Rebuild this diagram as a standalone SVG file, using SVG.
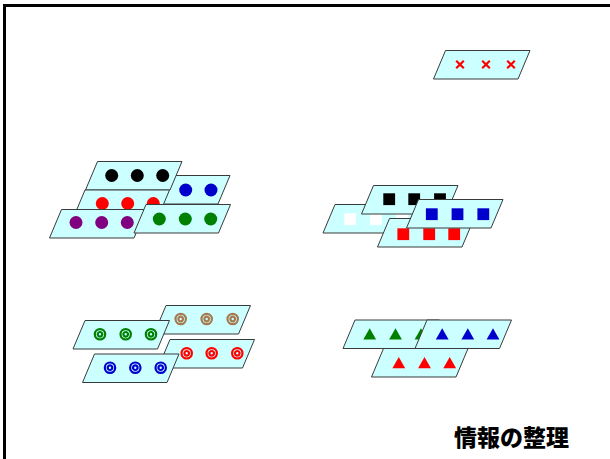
<svg xmlns="http://www.w3.org/2000/svg" xmlns:xlink="http://www.w3.org/1999/xlink" width="610" height="459" viewBox="0 0 610 459">
<style>
.pg{fill:#ccffff;stroke:#3a3a3a;stroke-width:1}
.x{stroke:#ff0000;stroke-width:2.2;fill:none}
.ring{fill:none;stroke-width:2.2}
.title{font-family:"Noto Sans CJK JP","Noto Sans CJK SC",sans-serif;font-weight:900;font-size:23px;fill:#000}
</style>
<defs>
<polygon id="pg" class="pg" points="0,0 84.5,0 72.5,28.5 -12,28.5"/>
<path id="xm" class="x" d="M-3.8,-3.8L3.8,3.8M3.8,-3.8L-3.8,3.8"/>
<rect id="sq" x="-5.9" y="-5.9" width="11.8" height="11.8"/>
<path id="tri" d="M0,0L6.4,11.2L-6.4,11.2Z"/>
<g id="rg"><circle r="5.2" class="ring"/><circle r="2.3" class="ring" stroke-width="1.6"/></g>
</defs>
<rect x="4.5" y="5.5" width="700" height="700" fill="#fff" stroke="#000" stroke-width="3"/>

<g id="crosses">
<use href="#pg" x="445.5" y="50.5"/>
<use href="#xm" x="460" y="64.5"/>
<use href="#xm" x="486" y="64.5"/>
<use href="#xm" x="511" y="64.5"/>
</g>

<g id="dots">
<g id="dots-blue" fill="#0000cc">
<use href="#pg" x="145.5" y="175.5"/>
<circle cx="160" cy="190" r="6.5"/><circle cx="185.7" cy="190" r="6.5"/><circle cx="211" cy="190" r="6.5"/>
</g>
<g id="dots-black" fill="#000">
<use href="#pg" x="97.5" y="161.5"/>
<circle cx="111.7" cy="175.5" r="6.5"/><circle cx="137.3" cy="175.5" r="6.5"/><circle cx="162.7" cy="175.5" r="6.5"/>
</g>
<g id="dots-red" fill="#ff0000">
<use href="#pg" x="85" y="190"/>
<circle cx="102.3" cy="203.5" r="6.5"/><circle cx="127.7" cy="203.5" r="6.5"/><circle cx="153.3" cy="203.5" r="6.5"/>
</g>
<g id="dots-purple" fill="#800080">
<use href="#pg" x="61.5" y="209.5"/>
<circle cx="76" cy="222.5" r="6.5"/><circle cx="101.7" cy="222.5" r="6.5"/><circle cx="127.3" cy="222.5" r="6.5"/>
</g>
<g id="dots-green" fill="#008000">
<use href="#pg" x="146" y="204.5"/>
<circle cx="159.3" cy="219" r="6.5"/><circle cx="185.3" cy="219" r="6.5"/><circle cx="210.7" cy="219" r="6.5"/>
</g>
</g>

<g id="squares">
<g id="sq-white" fill="#fff">
<use href="#pg" x="335" y="204.5"/>
<use href="#sq" x="350.2" y="219.2"/><use href="#sq" x="376" y="219.2"/><use href="#sq" x="402" y="219.2"/>
</g>
<g id="sq-black" fill="#000">
<use href="#pg" x="373.5" y="185.5"/>
<use href="#sq" x="389.2" y="199.2"/><use href="#sq" x="414.2" y="199.2"/><use href="#sq" x="440" y="199.2"/>
</g>
<g id="sq-red" fill="#ff0000">
<use href="#pg" x="389.5" y="218.5"/>
<use href="#sq" x="403.3" y="234.2"/><use href="#sq" x="429.2" y="234.2"/><use href="#sq" x="454.2" y="234.2"/>
</g>
<g id="sq-blue" fill="#0000cc">
<use href="#pg" x="418.5" y="199.5"/>
<use href="#sq" x="431.8" y="214.2"/><use href="#sq" x="457.5" y="214.2"/><use href="#sq" x="483.3" y="214.2"/>
</g>
</g>

<g id="rings">
<g id="rings-brown" stroke="#a57a4f">
<use href="#pg" x="166" y="305.5" stroke="#3a3a3a"/>
<use href="#rg" x="180.7" y="319"/><use href="#rg" x="206.7" y="319"/><use href="#rg" x="232.7" y="319"/>
</g>
<g id="rings-green" stroke="#008000">
<use href="#pg" x="85" y="320.5"/>
<use href="#rg" x="100" y="334.3"/><use href="#rg" x="125.7" y="334.3"/><use href="#rg" x="151" y="334.3"/>
</g>
<g id="rings-red" stroke="#ff0000">
<use href="#pg" x="170" y="339.5"/>
<use href="#rg" x="186.7" y="353.3"/><use href="#rg" x="211.7" y="353.3"/><use href="#rg" x="237.3" y="353.3"/>
</g>
<g id="rings-blue" stroke="#0000cc">
<use href="#pg" x="94.5" y="354"/>
<use href="#rg" x="110" y="367.7"/><use href="#rg" x="135.3" y="367.7"/><use href="#rg" x="160.7" y="367.7"/>
</g>
</g>

<g id="triangles">
<g id="tri-red" fill="#ff0000">
<use href="#pg" x="383.5" y="348.5"/>
<use href="#tri" x="398.8" y="357"/><use href="#tri" x="424.5" y="357"/><use href="#tri" x="449.7" y="357"/>
</g>
<g id="tri-green" fill="#008000">
<use href="#pg" x="355" y="320"/>
<use href="#tri" x="369.7" y="328.3"/><use href="#tri" x="395.5" y="328.3"/><use href="#tri" x="421" y="328.3"/>
</g>
<g id="tri-blue" fill="#0000cc">
<use href="#pg" x="427" y="320"/>
<use href="#tri" x="442.2" y="328.3"/><use href="#tri" x="467.8" y="328.3"/><use href="#tri" x="493" y="328.3"/>
</g>
</g>

<text class="title" x="454" y="446">情報の整理</text>
</svg>
